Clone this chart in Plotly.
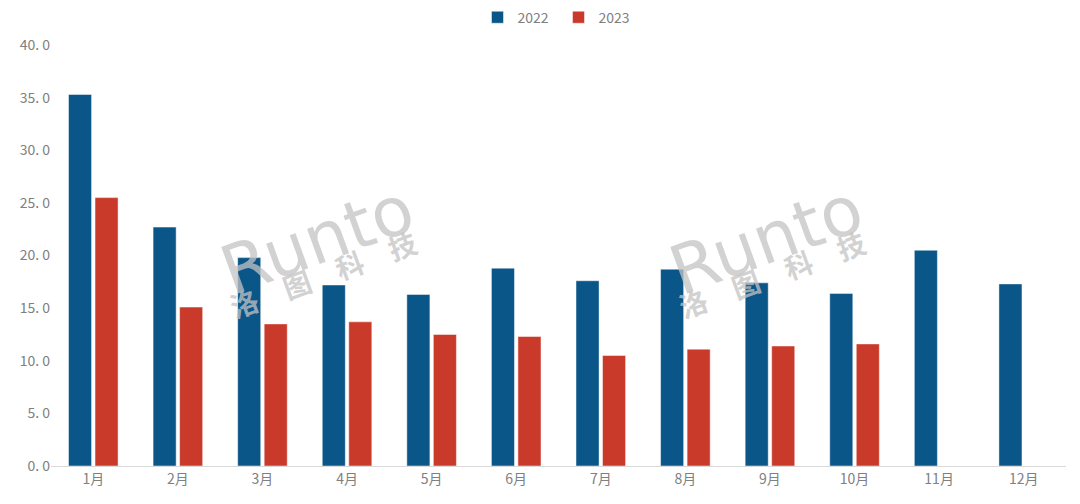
import plotly.graph_objects as go

months = ["1月", "2月", "3月", "4月", "5月", "6月", "7月", "8月", "9月", "10月", "11月", "12月"]
y2022 = [35.3, 22.7, 19.8, 17.2, 16.3, 18.8, 17.6, 18.7, 17.4, 16.4, 20.5, 17.3]
y2023 = [25.5, 15.1, 13.5, 13.7, 12.5, 12.3, 10.5, 11.1, 11.4, 11.6, None, None]
tick_vals = [0, 5, 10, 15, 20, 25, 30, 35, 40]
tick_text = ["0. 0", "5. 0", "10. 0", "15. 0", "20. 0", "25. 0", "30. 0", "35. 0", "40. 0"]

BLUE = "#0A5688"
RED = "#CA3A2A"
GRAY = "#808080"
FONT = "Noto Sans CJK SC"

fig = go.Figure()
fig.add_trace(go.Bar(x=months, y=y2022, name="2022",
                     marker=dict(color=BLUE, line=dict(color="rgba(255,255,255,0.6)", width=0.8))))
fig.add_trace(go.Bar(x=months, y=y2023, name="2023",
                     marker=dict(color=RED, line=dict(color="rgba(255,255,255,0.6)", width=0.8))))

# watermarks
for xr, xc in [(0.263, 0.268), (0.705, 0.710)]:
    fig.add_annotation(x=xr, y=0.537, xref="paper", yref="paper", text="Runto",
                       showarrow=False, textangle=-20, xanchor="center", yanchor="middle",
                       font=dict(family="DejaVu Sans", size=68, color="rgba(195,195,195,0.75)"))
    fig.add_annotation(x=xc, y=0.456, xref="paper", yref="paper", text="<b>洛　图　科　技</b>",
                       showarrow=False, textangle=-20, xanchor="center", yanchor="middle",
                       font=dict(family=FONT, size=28, color="rgba(195,195,195,0.75)"))

fig.update_layout(
    width=1080, height=504,
    margin=dict(l=51, r=14, t=45, b=38),
    paper_bgcolor="white", plot_bgcolor="white",
    barmode="group", bargap=0.373, bargroupgap=0.13,
    font=dict(family=FONT, size=14, color=GRAY),
    legend=dict(orientation="h", x=0.5, xanchor="center", y=0.965, yref="container",
                yanchor="middle", font=dict(size=14, color=GRAY), itemwidth=30,
                entrywidth=36, entrywidthmode="pixels", traceorder="normal"),
    xaxis=dict(showline=True, linecolor="#D9D9D9", linewidth=1, ticks="", showgrid=False,
               automargin=False, tickfont=dict(size=14, color=GRAY)),
    yaxis=dict(range=[0, 40], tickvals=tick_vals, ticktext=tick_text, showgrid=False,
               zeroline=False, showline=False, ticks="", automargin=False,
               tickfont=dict(size=14, color=GRAY)),
)

fig.write_html("out.html", config={"displayModeBar": False},
               post_script="document.body.style.margin='0';")
